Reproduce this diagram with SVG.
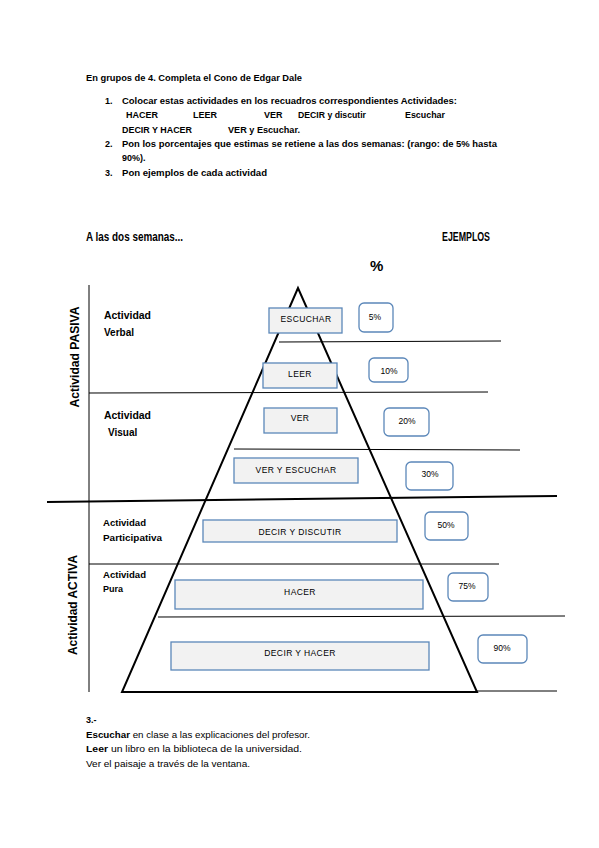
<svg xmlns="http://www.w3.org/2000/svg" width="599" height="848" viewBox="0 0 599 848">
<style>
text{font-family:"Liberation Sans",Arial,sans-serif;fill:#000}
.b{font-weight:bold;font-size:9px}
.r{font-size:9px}
.cond{font-weight:bold;font-size:13px}
.side{font-weight:bold;font-size:12px}
.lab{font-weight:bold;font-size:10px}
.lab2{font-weight:bold;font-size:9px}
.box{fill:#f2f2f2;stroke:#5b87b9;stroke-width:1.3}
.pbox{fill:#fff;stroke:#5b87b9;stroke-width:1.3}
.bt{font-size:8.5px;text-anchor:middle;letter-spacing:0.4px}
.pt{font-size:8.5px;text-anchor:middle}
.ln{stroke:#000;stroke-width:1;fill:none}
.thk{stroke:#000;stroke-width:2;fill:none}
</style>

<g id="instructions">
<text class="b" x="86" y="81" textLength="216" lengthAdjust="spacingAndGlyphs">En grupos de 4. Completa el Cono de Edgar Dale</text>
<text class="b" x="105" y="104">1.</text>
<text class="b" x="122" y="104" textLength="335" lengthAdjust="spacingAndGlyphs">Colocar estas actividades en los recuadros correspondientes Actividades:</text>
<text class="b" x="126" y="118">HACER</text>
<text class="b" x="193" y="118">LEER</text>
<text class="b" x="264" y="118">VER</text>
<text class="b" x="298" y="118" textLength="68" lengthAdjust="spacingAndGlyphs">DECIR y discutir</text>
<text class="b" x="405" y="118" textLength="40" lengthAdjust="spacingAndGlyphs">Escuchar</text>
<text class="b" x="122" y="133" textLength="70" lengthAdjust="spacingAndGlyphs">DECIR Y HACER</text>
<text class="b" x="228" y="133" textLength="72" lengthAdjust="spacingAndGlyphs">VER y Escuchar.</text>
<text class="b" x="105" y="147">2.</text>
<text class="b" x="122" y="147" textLength="375" lengthAdjust="spacingAndGlyphs">Pon los porcentajes que estimas se retiene a las dos semanas: (rango: de 5% hasta</text>
<text class="b" x="122" y="161">90%).</text>
<text class="b" x="105" y="176">3.</text>
<text class="b" x="122" y="176" textLength="145" lengthAdjust="spacingAndGlyphs">Pon ejemplos de cada actividad</text>
</g>

<g id="headings">
<text class="cond" x="86" y="241" textLength="97" lengthAdjust="spacingAndGlyphs">A las dos semanas...</text>
<text class="cond" x="442" y="241" textLength="48" lengthAdjust="spacingAndGlyphs">EJEMPLOS</text>
<text x="370" y="271" style="font-weight:bold;font-size:15px">%</text>
</g>

<g id="connectors">
<line class="ln" x1="89" y1="285" x2="89" y2="692"/>
<line class="ln" x1="279" y1="342" x2="501" y2="341"/>
<line class="ln" x1="89" y1="393" x2="488" y2="392"/>
<line class="ln" x1="234" y1="449" x2="520" y2="450"/>
<line class="thk" x1="47" y1="502" x2="557" y2="496"/>
<line class="ln" x1="89" y1="564" x2="499" y2="564"/>
<line class="ln" x1="158" y1="617" x2="565" y2="616"/>
<line class="ln" x1="477" y1="691" x2="557" y2="691"/>
<polygon class="thk" points="298,288 122,692 477,692"/>
</g>

<g id="side-labels">
<text class="side" transform="translate(79,357) rotate(-90)" text-anchor="middle" textLength="101" lengthAdjust="spacingAndGlyphs">Actividad PASIVA</text>
<text class="side" transform="translate(77,605) rotate(-90)" text-anchor="middle" textLength="100" lengthAdjust="spacingAndGlyphs">Actividad ACTIVA</text>
</g>

<g id="cat-verbal">
<text class="lab" x="104" y="319" textLength="47" lengthAdjust="spacingAndGlyphs">Actividad</text>
<text class="lab" x="104" y="336">Verbal</text>
</g>
<g id="cat-visual">
<text class="lab" x="104" y="419" textLength="47" lengthAdjust="spacingAndGlyphs">Actividad</text>
<text class="lab" x="108" y="436">Visual</text>
</g>
<g id="cat-participativa">
<text class="lab2" x="103" y="526" textLength="43" lengthAdjust="spacingAndGlyphs">Actividad</text>
<text class="lab2" x="103" y="541" textLength="59" lengthAdjust="spacingAndGlyphs">Participativa</text>
</g>
<g id="cat-pura">
<text class="lab2" x="103" y="578" textLength="43" lengthAdjust="spacingAndGlyphs">Actividad</text>
<text class="lab2" x="103" y="592">Pura</text>
</g>

<g id="escuchar"><rect class="box" x="269" y="308" width="73" height="25"/><text class="bt" x="306" y="322">ESCUCHAR</text></g>
<g id="leer"><rect class="box" x="263" y="363" width="74" height="25"/><text class="bt" x="300" y="377">LEER</text></g>
<g id="ver"><rect class="box" x="264" y="408" width="73" height="25"/><text class="bt" x="300" y="421">VER</text></g>
<g id="ver-escuchar"><rect class="box" x="234" y="458" width="124" height="25"/><text class="bt" x="296" y="473">VER Y ESCUCHAR</text></g>
<g id="decir-discutir"><rect class="box" x="203" y="520" width="194" height="22"/><text class="bt" x="300" y="535">DECIR Y DISCUTIR</text></g>
<g id="hacer"><rect class="box" x="175" y="580" width="248" height="29"/><text class="bt" x="300" y="595">HACER</text></g>
<g id="decir-hacer"><rect class="box" x="171" y="642" width="258" height="28"/><text class="bt" x="300" y="656">DECIR Y HACER</text></g>

<g id="p5"><rect class="pbox" x="359" y="303" width="34" height="29" rx="5"/><text class="pt" x="375" y="320">5%</text></g>
<g id="p10"><rect class="pbox" x="369" y="358" width="39" height="24" rx="5"/><text class="pt" x="389" y="374">10%</text></g>
<g id="p20"><rect class="pbox" x="384" y="408" width="45" height="28" rx="5"/><text class="pt" x="407" y="424">20%</text></g>
<g id="p30"><rect class="pbox" x="406" y="462" width="47" height="28" rx="5"/><text class="pt" x="430" y="477">30%</text></g>
<g id="p50"><rect class="pbox" x="425" y="512" width="43" height="28" rx="5"/><text class="pt" x="446" y="528">50%</text></g>
<g id="p75"><rect class="pbox" x="448" y="573" width="40" height="28" rx="5"/><text class="pt" x="467" y="589">75%</text></g>
<g id="p90"><rect class="pbox" x="478" y="635" width="49" height="28" rx="5"/><text class="pt" x="502" y="651">90%</text></g>

<g id="examples">
<text class="b" x="86" y="723">3.-</text>
<text class="r" x="86" y="738" textLength="224" lengthAdjust="spacingAndGlyphs"><tspan font-weight="bold">Escuchar</tspan> en clase a las explicaciones del profesor.</text>
<text class="r" x="86" y="752" textLength="216" lengthAdjust="spacingAndGlyphs"><tspan font-weight="bold">Leer</tspan> un libro en la biblioteca de la universidad.</text>
<text class="r" x="86" y="767" textLength="164" lengthAdjust="spacingAndGlyphs">Ver el paisaje a través de la ventana.</text>
</g>
</svg>
